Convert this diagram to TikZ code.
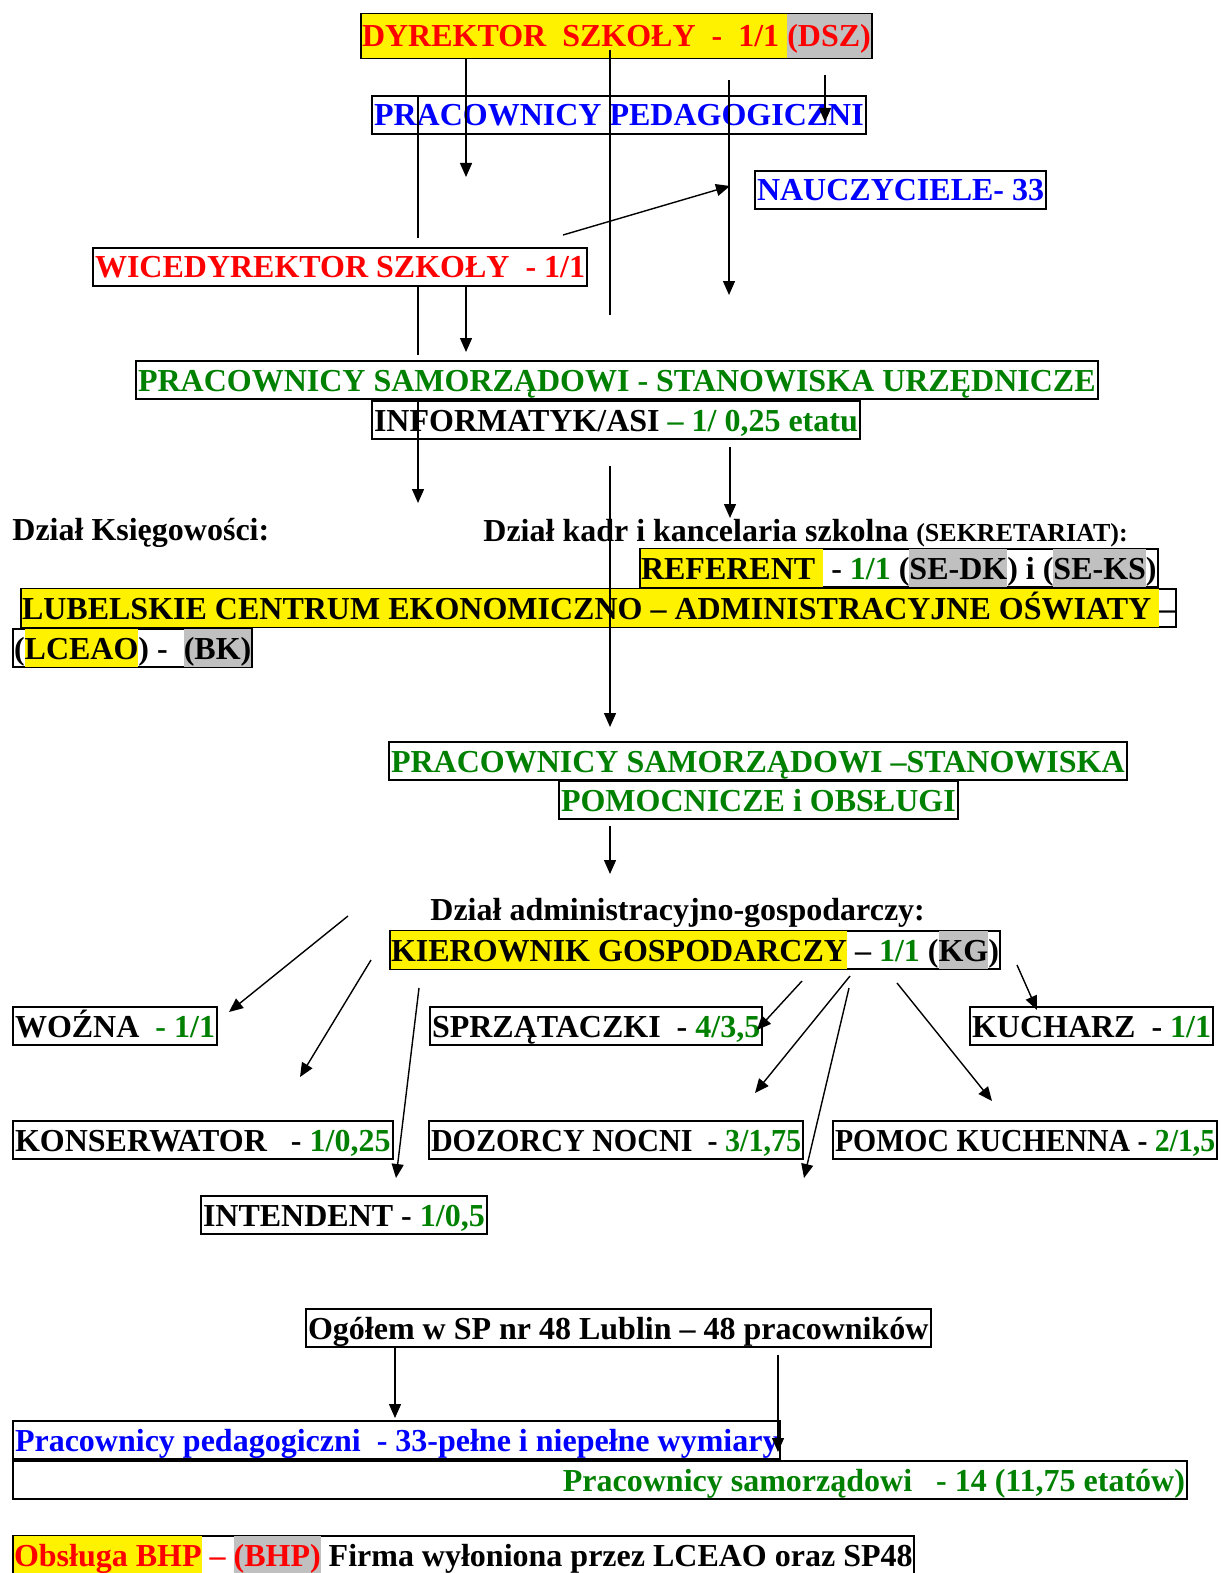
\documentclass[tikz,border=0pt]{standalone}
\usepackage{fontspec}
\setmainfont{Liberation Serif}
\usetikzlibrary{arrows.meta}
\definecolor{wgreen}{RGB}{0,128,0}
\definecolor{wgray}{RGB}{192,192,192}
\newcommand{\boxstrut}{\vrule height 15pt depth 4pt width 0pt}
\newcommand{\hlt}[3][0pt]{{\setlength{\fboxsep}{0pt}\colorbox{#2}{\vrule height \dimexpr15pt+#1\relax depth \dimexpr4pt+#1\relax width 0pt#3}}}
\tikzset{
	org box/.style={draw,line width=1pt,inner xsep=1pt,inner ysep=0pt,anchor=north west,execute at begin node=\boxstrut},
	label text/.style={anchor=west,inner sep=0pt}
}

\begin{document}
\begin{tikzpicture}[x=0.5pt,y=-0.5pt,font=\fontsize{16}{19}\selectfont\bfseries,
            link/.style={line width=0.7pt},
            link arrow/.style={line width=0.7pt,-{Triangle[length=7pt,width=6pt]}}]
\useasboundingbox (0,0) rectangle (1220,1573);
% kierownictwo
\node [org box,text=red,inner xsep=0.5pt] (dsz) at (360,13) {\hlt[1.5pt]{yellow}{DYREKTOR\ \ SZKOŁY\ \ -\ \ 1/1\ }\hlt[1.5pt]{wgray}{(DSZ)}};
\node [org box,text=blue] (ped) at (371,95) {PRACOWNICY PEDAGOGICZNI};
\node [org box,text=blue] (naucz) at (754,170) {NAUCZYCIELE- 33};
\node [org box,text=red] (wice) at (92,247) {WICEDYREKTOR SZKOŁY\ \ - 1/1};
% urzednicy
\node [org box,text=wgreen] (urz) at (135,360) {PRACOWNICY SAMORZĄDOWI - STANOWISKA URZĘDNICZE};
\node [org box] (asi) at (371,400) {INFORMATYK/ASI {\color{wgreen}– 1/ 0,25 etatu}};
\node [label text] (ksieg) at (12,533) {Dział Księgowości:};
\node [label text] (kadr) at (483,533) {Dział kadr i kancelaria szkolna {\fontsize{13}{15}\selectfont (SEKRETARIAT):}};
\node [org box,inner xsep=0.5pt] (ref) at (639,548) {\hlt{yellow}{REFERENT\ }\ - {\color{wgreen}1/1} (\hlt{wgray}{SE-DK}) i (\hlt{wgray}{SE-KS})};
\node [org box,inner xsep=0.5pt] (lceao) at (20,588) {\hlt{yellow}{LUBELSKIE CENTRUM EKONOMICZNO – ADMINISTRACYJNE OŚWIATY\ }–};
\node [org box,inner xsep=0.5pt] (bk) at (12,628) {(\hlt{yellow}{LCEAO}) -\ \ \hlt{wgray}{(BK)}};
% obsluga
\node [org box,text=wgreen] (obs1) at (388,741) {PRACOWNICY SAMORZĄDOWI –STANOWISKA};
\node [org box,text=wgreen] (obs2) at (558,780) {POMOCNICZE i OBSŁUGI};
\node [label text] (adm) at (430,913) {Dział administracyjno-gospodarczy:};
\node [org box,inner xsep=0.5pt] (kg) at (389,930) {\hlt{yellow}{KIEROWNIK GOSPODARCZY} – {\color{wgreen}1/1} (\hlt{wgray}{KG})};
\node [org box] (wozna) at (12,1006) {WOŹNA\ \ {\color{wgreen}- 1/1}};
\node [org box] (sprz) at (429,1006) {SPRZĄTACZKI\ \ - {\color{wgreen}4/3,5}};
\node [org box] (kuch) at (969,1006) {KUCHARZ\ \ - {\color{wgreen}1/1}};
\node [org box] (kons) at (12,1120) {KONSERWATOR\ \ \ - {\color{wgreen}1/0,25}};
\node [org box] (doz) at (428,1120) {\scalebox{0.94}[1]{DOZORCY NOCNI\ \ - {\color{wgreen}3/1,75}}};
\node [org box] (pkuch) at (832,1120) {\scalebox{0.93}[1]{POMOC KUCHENNA - {\color{wgreen}2/1,5}}};
\node [org box] (intend) at (200,1195) {INTENDENT - {\color{wgreen}1/0,5}};
% podsumowanie
\node [org box] (ogol) at (305,1308) {Ogółem w SP nr 48 Lublin – 48 pracowników};
\node [org box,text=blue] (pped) at (12,1420) {Pracownicy pedagogiczni\ \ - 33-pełne i niepełne wymiary};
\node [org box,text=wgreen] (psam) at (12,1460) {\hbox to 585pt{\hfil Pracownicy samorządowi\ \ \ - 14 (11,75 etatów)}};
\node [org box,inner xsep=0.5pt] (bhp) at (12,1535) {\hlt{yellow}{\color{red}Obsługa BHP} {\color{red}– }\hlt{wgray}{\color{red}(BHP)} Firma wyłoniona przez LCEAO oraz SP48};
% wolne konce polaczen
\foreach \n/\x/\y in {dA/466/177,dB1/610/50,dB2/610/315,dC1/825/75,dC2/825/122,dD1/729/80,dD2/729/295,
    pA/418/238,wN1/563/235,wN2/730/186,wA/418/355,wB/466/352,
    iA/418/503,iB1/730/447,iB2/730/518,iC1/610/466,iC2/610/727,sA1/610/826,sA2/610/874,
    k1a/348/916,k1b/229/1012,k2a/371/960,k2b/300/1077,k3a/419/988,k3b/396/1178,
    k4a/802/981,k4b/757/1030,k5a/850/976,k5b/755/1093,k6a/849/988,k6b/804/1178,
    k7a/897/983,k7b/992/1101,k8a/1017/965,k8b/1037/1010,
    oA/395/1418,oB1/778/1355,oB2/778/1452}
  \coordinate (\n) at (\x,\y);
% polaczenia
\draw [link arrow] (dsz.south -| dA) -- (dA);
\draw [link] (dB1) -- (dB2);
\draw [link arrow] (dC1) -- (dC2);
\draw [link arrow] (dD1) -- (dD2);
\draw [link] (ped.north -| pA) -- (pA);
\draw [link arrow] (wN1) -- (wN2);
\draw [link] (wice.south -| wA) -- (wA);
\draw [link arrow] (wice.south -| wB) -- (wB);
\draw [link arrow] (asi.north -| iA) -- (iA);
\draw [link arrow] (iB1) -- (iB2);
\draw [link arrow] (iC1) -- (iC2);
\draw [link arrow] (sA1) -- (sA2);
\draw [link arrow] (k1a) -- (k1b);
\draw [link arrow] (k2a) -- (k2b);
\draw [link arrow] (k3a) -- (k3b);
\draw [link arrow] (k4a) -- (k4b);
\draw [link arrow] (k5a) -- (k5b);
\draw [link arrow] (k6a) -- (k6b);
\draw [link arrow] (k7a) -- (k7b);
\draw [link arrow] (k8a) -- (k8b);
\draw [link arrow] (ogol.south -| oA) -- (oA);
\draw [link arrow] (oB1) -- (oB2);
\end{tikzpicture}
\end{document}
